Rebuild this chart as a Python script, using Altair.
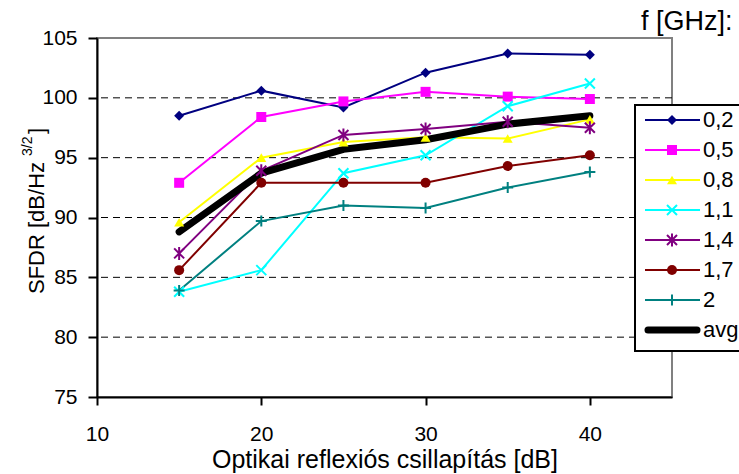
import altair as alt
import pandas as pd

# ---- data ----
x_vals = [15, 20, 25, 30, 35, 40]
series_names = ["0,2", "0,5", "0,8", "1,1", "1,4", "1,7", "2"]
s02 = [98.5, 100.6, 99.2, 102.1, 103.7, 103.6]
s05 = [92.9, 98.4, 99.7, 100.5, 100.1, 99.9]
s08 = [89.6, 95.0, 96.3, 96.7, 96.6, 98.2]
s11 = [83.8, 85.6, 93.7, 95.2, 99.3, 101.2]
s14 = [87.0, 93.9, 96.9, 97.4, 98.0, 97.5]
s17 = [85.6, 92.9, 92.9, 92.9, 94.3, 95.2]
s20 = [83.9, 89.7, 91.0, 90.8, 92.5, 93.8]
avg_vals = [88.8, 93.7, 95.7, 96.5, 97.8, 98.5]
series_vals = [s02, s05, s08, s11, s14, s17, s20]

colors = ["#000080", "#FF00FF", "#FFFF00", "#00FFFF", "#800080", "#800000", "#008080"]
shapes = [
    "diamond",
    "square",
    "triangle-up",
    "M-1,-1L1,1M-1,1L1,-1",
    "M-1,-1L1,1M-1,1L1,-1M0,-1.3L0,1.3",
    "circle",
    "M-1.1,0L1.1,0M0,-1.1L0,1.1",
]
filled_series = ["0,2", "0,5", "0,8", "1,7"]
open_series = ["1,1", "1,4", "2"]
grid_vals = [80, 85, 90, 95, 100]
y_ticks = [75, 80, 85, 90, 95, 100, 105]
x_ticks = [10, 20, 30, 40]
legend_names = series_names + ["avg"]

FONT = "Liberation Sans, Arial"

rows = []
for name, vals in zip(series_names, series_vals):
    for xv, yv in zip(x_vals, vals):
        rows.append({"series": name, "x": xv, "y": yv})
df = pd.DataFrame(rows)
avg_df = pd.DataFrame({"x": x_vals, "y": avg_vals})
grid_df = pd.DataFrame({"g": grid_vals})

W, H = 575, 359

xscale = alt.Scale(domain=[10, 45], nice=False, zero=False)
yscale = alt.Scale(domain=[75, 105], nice=False, zero=False)
cscale = alt.Scale(domain=series_names, range=colors)
sscale = alt.Scale(domain=series_names, range=shapes)

xaxis = alt.Axis(values=x_ticks, tickSize=8, tickWidth=2, tickColor="black",
                 domainColor="black", domainWidth=2, labelFont=FONT, labelFontSize=21,
                 labelColor="black", labelPadding=18, labelFlush=False,
                 title="Optikai reflexiós csillapítás [dB]", titleFont=FONT,
                 titleFontSize=25, titleFontWeight="normal", titleColor="black",
                 titlePadding=3, grid=False, zindex=1)
yaxis = alt.Axis(values=y_ticks, tickSize=9, tickWidth=2, tickColor="black",
                 domainColor="black", domainWidth=2, labelFont=FONT, labelFontSize=21,
                 labelColor="black", labelPadding=11, title=None, grid=False, zindex=1)

X = alt.X("x:Q", scale=xscale, axis=xaxis)
Y = alt.Y("y:Q", scale=yscale, axis=yaxis)

grid = alt.Chart(grid_df).mark_rule(color="black", strokeWidth=1, strokeDash=[7, 5]).encode(
    y=alt.Y("g:Q", scale=yscale, axis=yaxis)
)

lines = alt.Chart(df).mark_line(strokeWidth=2).encode(
    x=X, y=Y, color=alt.Color("series:N", scale=cscale, legend=None), detail="series:N"
)
avg_line = alt.Chart(avg_df).mark_line(color="black", strokeWidth=7, strokeCap="round",
                                       strokeJoin="round").encode(x=X, y=Y)

pts_filled = alt.Chart(df).transform_filter(
    alt.FieldOneOfPredicate(field="series", oneOf=filled_series)
).mark_point(filled=True, size=100, opacity=1).encode(
    x=X, y=Y,
    color=alt.Color("series:N", scale=cscale, legend=None),
    shape=alt.Shape("series:N", scale=sscale, legend=None),
)
pts_open = alt.Chart(df).transform_filter(
    alt.FieldOneOfPredicate(field="series", oneOf=open_series)
).mark_point(filled=False, size=100, strokeWidth=2, opacity=1).encode(
    x=X, y=Y,
    color=alt.Color("series:N", scale=cscale, legend=None),
    shape=alt.Shape("series:N", scale=sscale, legend=None),
)

# ---- manual legend ----
leg_df = pd.DataFrame({"series": legend_names,
                       "ly": [82 + 30 * i for i in range(len(legend_names))]})
leg_box = alt.Chart(pd.DataFrame({"a": [0]})).mark_rect(
    fill="white", stroke="black", strokeWidth=2
).encode(x=alt.value(538), x2=alt.value(660), y=alt.value(67), y2=alt.value(313))

leg_ser = leg_df[leg_df.series != "avg"]
leg_avg = leg_df[leg_df.series == "avg"]
leg_lines = alt.Chart(leg_ser).mark_rule(strokeWidth=2).encode(
    x=alt.value(548), x2=alt.value(603), y=alt.Y("ly:Q", scale=None),
    color=alt.Color("series:N", scale=cscale, legend=None),
)
leg_avg_line = alt.Chart(leg_avg).mark_rule(strokeWidth=7, color="black", strokeCap="round").encode(
    x=alt.value(551), x2=alt.value(600), y=alt.Y("ly:Q", scale=None),
)
leg_pf = alt.Chart(leg_ser[leg_ser.series.isin(filled_series)]).mark_point(
    filled=True, size=100, opacity=1
).encode(
    x=alt.value(575), y=alt.Y("ly:Q", scale=None),
    color=alt.Color("series:N", scale=cscale, legend=None),
    shape=alt.Shape("series:N", scale=sscale, legend=None),
)
leg_po = alt.Chart(leg_ser[leg_ser.series.isin(open_series)]).mark_point(
    filled=False, size=100, strokeWidth=2, opacity=1
).encode(
    x=alt.value(575), y=alt.Y("ly:Q", scale=None),
    color=alt.Color("series:N", scale=cscale, legend=None),
    shape=alt.Shape("series:N", scale=sscale, legend=None),
)
leg_text = alt.Chart(leg_df).mark_text(
    align="left", baseline="middle", font=FONT, fontSize=22, color="black"
).encode(x=alt.value(606), y=alt.Y("ly:Q", scale=None), text="series:N")

one = pd.DataFrame({"a": [0]})
leg_title = alt.Chart(one).mark_text(
    align="left", baseline="middle", font=FONT, fontSize=27, color="black", text="f [GHz]:"
).encode(x=alt.value(544), y=alt.value(-16))

# ---- y title with superscript ----
yt_main = alt.Chart(one).mark_text(
    align="left", baseline="middle", font=FONT, fontSize=22, color="black", angle=270,
    text="SFDR [dB/Hz"
).encode(x=alt.value(-60), y=alt.value(256))
yt_sup = alt.Chart(one).mark_text(
    align="left", baseline="middle", font=FONT, fontSize=14, color="black", angle=270,
    text="3/2"
).encode(x=alt.value(-69), y=alt.value(118))
yt_close = alt.Chart(one).mark_text(
    align="left", baseline="middle", font=FONT, fontSize=22, color="black", angle=270,
    text="]"
).encode(x=alt.value(-60), y=alt.value(96))

chart = alt.layer(
    grid, lines, avg_line, pts_filled, pts_open,
    leg_box, leg_lines, leg_avg_line, leg_pf, leg_po, leg_text, leg_title,
    yt_main, yt_sup, yt_close,
).properties(
    width=W, height=H,
    autosize=alt.AutoSizeParams(type="none"),
    padding={"left": 97, "top": 38, "right": 67, "bottom": 77},
    background="white",
).configure_view(stroke="#808080", strokeWidth=2)

chart.save("out.html", embed_options={"renderer": "svg", "actions": False})
